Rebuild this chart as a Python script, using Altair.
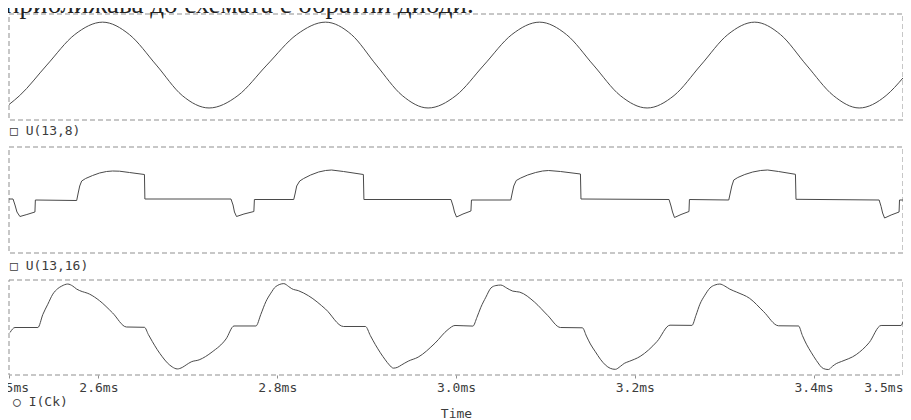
import altair as alt
import pandas as pd

# ---------------- data ----------------
caption = "приближава до схемата с обратни диоди."
panel_labels = ["□ U(13,8)", "□ U(13,16)", "○ I(Ck)"]
tick_values = [2.5, 2.6, 2.8, 3.0, 3.2, 3.4, 3.5]
x_title = "Time"

# U(13,8) (normalised amplitude)
t1 = [2.5000, 2.5120, 2.5423, 2.5735, 2.6047, 2.6347, 2.6648, 2.6938, 2.7238,
      2.7561, 2.7884, 2.8218, 2.8541, 2.8831, 2.9109, 2.9399, 2.9688, 3.0000,
      3.0312, 3.0624, 3.0935, 3.1236, 3.1537, 3.1837, 3.2138, 3.2439, 3.2739,
      3.3040, 3.3341, 3.3630, 3.3920, 3.4221, 3.4510, 3.4811, 3.5000]
v1 = [-0.92, -0.71, 0.0, 0.71, 1.0, 0.71, 0.0, -0.71, -1.0,
      -0.71, 0.0, 0.71, 1.0, 0.71, 0.0, -0.71, -1.0, -0.71,
      0.0, 0.71, 1.0, 0.71, 0.0, -0.71, -1.0, -0.71, 0.0,
      0.71, 1.0, 0.71, 0.0, -0.71, -1.0, -0.71, -0.30]

# U(13,16)
t2 = [2.5000, 2.5045, 2.5067, 2.5089, 2.5122, 2.5200, 2.5290, 2.5295,
      2.5757, 2.5774, 2.5791, 2.5813, 2.5857, 2.5935, 2.6013, 2.6091, 2.6158, 2.6236, 2.6347, 2.6515, 2.6520,
      2.7483, 2.7506, 2.7522, 2.7545, 2.7628, 2.7739, 2.7745,
      2.8185, 2.8202, 2.8218, 2.8252, 2.8296, 2.8374, 2.8463, 2.8541, 2.8608, 2.8742, 2.8964, 2.8970,
      2.9944, 2.9967, 2.9983, 3.0006, 3.0078, 3.0167, 3.0173,
      3.0613, 3.0629, 3.0646, 3.0674, 3.0724, 3.0802, 3.0891, 3.0969, 3.1036, 3.1169, 3.1392, 3.1398,
      3.2383, 3.2405, 3.2422, 3.2444, 3.2517, 3.2606, 3.2611,
      3.3051, 3.3068, 3.3085, 3.3107, 3.3152, 3.3230, 3.3319, 3.3408, 3.3486, 3.3608, 3.3797, 3.3803,
      3.4733, 3.4755, 3.4772, 3.4794, 3.4867, 3.4956, 3.4961, 3.5000]
v2 = [54, 54, 48, 41, 36.5, 38.5, 41, 53,
      52.5, 60, 67, 72, 74.5, 77.5, 80, 81.5, 82, 81.8, 80.5, 78.5, 54,
      54, 48, 41, 36.5, 39, 41.5, 53.5,
      53.5, 60, 67, 72, 74.5, 78, 81, 82.5, 83, 81.5, 78.5, 53.5,
      53.5, 47, 41, 36, 39, 42, 53,
      53, 60, 67, 72.5, 75, 78, 80.5, 82, 82.5, 81.5, 79, 54,
      53.5, 47, 41, 35.5, 38.5, 41.5, 53.5,
      53, 60, 67, 73, 75.5, 78.5, 81, 82.5, 83, 81.5, 78.7, 53.7,
      53, 46.5, 40, 35, 38, 41, 53, 53]

# I(Ck)
t3 = [2.5011, 2.5067, 2.5323, 2.5379, 2.5434, 2.5490, 2.5546, 2.5590, 2.5657, 2.5713, 2.5757, 2.5791,
      2.5902, 2.6013, 2.6158, 2.6314, 2.6515, 2.6559, 2.6604, 2.6659, 2.6715, 2.6771, 2.6826, 2.6882,
      2.6938, 2.6982, 2.7038, 2.7127, 2.7272, 2.7428, 2.7517, 2.7762, 2.7817, 2.7873, 2.7929, 2.7984,
      2.8074, 2.8129, 2.8163, 2.8241, 2.8352, 2.8541, 2.8742, 2.8987, 2.9042, 2.9098, 2.9154, 2.9209,
      2.9254, 2.9299, 2.9343, 2.9388, 2.9466, 2.9577, 2.9766, 2.9911, 2.9989, 3.0189, 3.0234, 3.0278,
      3.0334, 3.0390, 3.0446, 3.0501, 3.0568, 3.0635, 3.0713, 3.0880, 3.1025, 3.1169, 3.1414, 3.1459,
      3.1503, 3.1559, 3.1615, 3.1670, 3.1726, 3.1782, 3.1838, 3.1882, 3.1938, 3.2060, 3.2250, 3.2394,
      3.2639, 3.2684, 3.2728, 3.2784, 3.2840, 3.2895, 3.2951, 3.3007, 3.3062, 3.3140, 3.3285, 3.3441,
      3.3608, 3.3831, 3.3875, 3.3920, 3.3976, 3.4031, 3.4109, 3.4165, 3.4209, 3.4254, 3.4310, 3.4477,
      3.4621, 3.4755, 3.4978, 3.5000]
v3 = [42, 47, 47, 60, 70, 80, 85.5, 88, 90, 88, 85, 83.5,
      80, 73.5, 61.5, 47.5, 47.2, 40, 33, 25, 18, 12, 8, 6,
      7.5, 10, 13, 15, 22.8, 35.7, 48.5, 48.5, 60, 72.5, 81, 87.5,
      90.4, 87.5, 85.4, 83.3, 78.3, 65.2, 48, 48, 39, 30, 22, 15,
      10, 6.8, 7.5, 9.8, 13.7, 17.7, 31.6, 45, 49, 48.4, 57, 67,
      77, 86, 88.5, 89, 86, 83, 82, 72, 59, 47, 46.7, 38.5,
      30.7, 23, 15.6, 10, 6.6, 5.6, 8.5, 11.5, 13.5, 18.4, 33.3, 49.3,
      49.1, 59, 70, 79, 86, 89, 90, 88, 85, 82, 75.8, 62.7,
      48.7, 48.5, 39, 30.5, 22, 14.4, 6.4, 5.4, 8.5, 11.3, 13.3, 20.2,
      32, 49, 49, 53]

# ---------------- styling / layout ----------------
W, H = 894, 361
FONT = "DejaVu Sans Mono"
INK = "#3c3c3c"
TRACE = "#4a4a4a"
FRAME = "#8f8f8f"

xs = alt.Scale(domain=[2.5, 3.5], nice=False, zero=False)
xaxis = alt.Axis(
    values=tick_values,
    labelExpr="format(datum.value, '.1f') + 'ms'",
    labelFont=FONT, labelFontSize=13, labelColor=INK, labelPadding=3,
    labelAlign={"condition": {"test": "datum.value >= 3.49", "value": "right"}, "value": "center"},
    labelOverlap=False,
    tickSize=3, tickColor=FRAME, domain=False, grid=False,
    title=x_title, titleFont=FONT, titleFontSize=13, titleFontWeight="normal",
    titleColor=INK, titleY=38, titleBaseline="middle",
)

panels = [
    (pd.DataFrame({"t": t1, "v": v1}), [-1.28, 1.19], [106, 0], "monotone"),
    (pd.DataFrame({"t": t2, "v": v2}), [0, 106], [239, 133], "linear"),
    (pd.DataFrame({"t": t3, "v": v3}), [0, 94], [361, 266], "monotone"),
]

layers = []
for df, dom, rng, interp in panels:
    ys = alt.Scale(domain=dom, range=rng, nice=False, zero=False)
    box = alt.Chart(df).mark_rect(
        filled=False, color=FRAME, strokeDash=[5, 3], strokeWidth=1
    ).encode(
        x=alt.XDatum(2.5, type="quantitative", scale=xs, axis=xaxis),
        x2=alt.X2Datum(3.5),
        y=alt.YDatum(dom[1], type="quantitative", scale=ys, axis=None),
        y2=alt.Y2Datum(dom[0]),
    ).transform_filter("datum.t == 3.5")
    line = alt.Chart(df).mark_line(
        color=TRACE, strokeWidth=1, interpolate=interp
    ).encode(
        x=alt.X("t:Q", scale=xs, axis=xaxis),
        y=alt.Y("v:Q", scale=ys, axis=None),
    )
    layers += [box, line]

label_pos = [(1, 117), (1, 252), (4, 388)]
for lab, (lx, ly) in zip(panel_labels, label_pos):
    layers.append(
        alt.Chart(pd.DataFrame({"s": [lab]})).mark_text(
            align="left", baseline="middle", font=FONT, fontSize=13, color=INK
        ).encode(text="s:N", x=alt.value(lx), y=alt.value(ly))
    )

layers.append(
    alt.Chart(pd.DataFrame({"s": [caption]})).mark_text(
        align="left", baseline="alphabetic", font="Liberation Serif", fontSize=27, color="#222222"
    ).encode(text="s:N", x=alt.value(-4), y=alt.value(-1))
)

chart = alt.layer(*layers).resolve_scale(y="independent").properties(
    width=W, height=H,
    autosize=alt.AutoSizeParams(type="none"),
    padding={"left": 1, "top": 6, "right": 0, "bottom": 45},
    background="white",
).configure_view(strokeWidth=0)

chart.save("out.html", embed_options={"renderer": "svg", "actions": False})
